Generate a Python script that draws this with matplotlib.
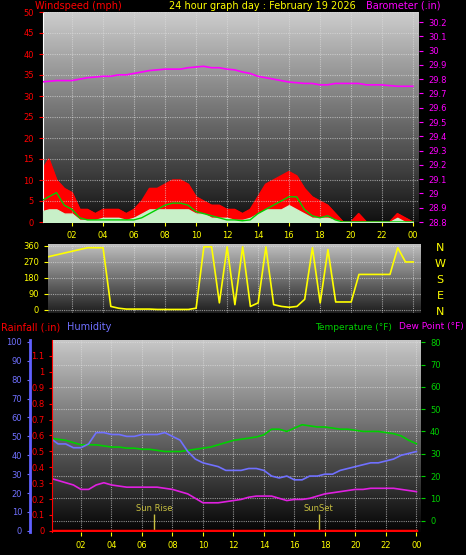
import numpy as np
import matplotlib
matplotlib.use("Agg")
import matplotlib.pyplot as plt

# ---- data ----
hrs = np.arange(0, 24.5, 0.5)
gust = [12, 15, 10, 8, 7, 3, 3, 2, 3, 3, 3, 2, 3, 5, 8, 8, 9, 10, 10, 9, 6, 5, 4, 4, 3,
        3, 2, 3, 6, 9, 10, 11, 12, 11, 8, 6, 5, 4, 2, 0, 0, 2, 0, 0, 0, 0, 2, 1, 0]
wspeed = [2.5, 3, 3, 2, 2, 0.5, 0.5, 0.5, 1, 1, 1, 0.5, 1, 2, 3, 3, 3, 3, 3, 3, 2, 2, 1, 1, 1,
          0.5, 0.5, 1, 2, 3, 3, 3, 4, 3, 2, 1, 1, 1, 0.5, 0, 0, 0, 0, 0, 0, 0, 1, 0, 0]
wavg = [5, 6, 7, 4, 3, 1, 0.5, 0.5, 0.5, 0.5, 0.5, 0.5, 0.5, 1, 2, 3, 4, 4.5, 4.5, 4, 2.5, 2, 1.5, 1, 0.5,
        0.5, 0.3, 0.5, 2, 3, 4, 5, 6, 6, 3, 1.5, 1, 1.5, 0.5, 0, 0, 0, 0, 0, 0, 0, 0, 0, 0]
baro = [29.78, 29.785, 29.79, 29.79, 29.79, 29.80, 29.81, 29.815, 29.82, 29.82, 29.83, 29.83, 29.84,
        29.85, 29.86, 29.865, 29.87, 29.87, 29.87, 29.88, 29.885, 29.89, 29.88, 29.88, 29.87,
        29.865, 29.85, 29.84, 29.82, 29.81, 29.80, 29.79, 29.78, 29.775, 29.77, 29.77, 29.76,
        29.76, 29.77, 29.77, 29.77, 29.77, 29.76, 29.76, 29.76, 29.755, 29.75, 29.75, 29.75]
wdir = [290, 300, 310, 320, 330, 340, 350, 350, 350, 20, 10, 5, 5, 5, 5, 3, 3, 3, 3, 3, 10, 355, 355, 40, 355,
        30, 355, 20, 40, 355, 30, 20, 15, 20, 60, 350, 40, 340, 45, 45, 45, 200, 200, 200, 200, 200, 350, 270, 270]
humid = [49, 46, 46, 44, 44, 46, 52, 52, 51, 51, 50, 50, 51, 51, 51, 52, 50, 48, 42, 38, 36, 35, 34, 32, 32,
         32, 33, 33, 32, 29, 28, 29, 27, 27, 29, 29, 30, 30, 32, 33, 34, 35, 36, 36, 37, 38, 40, 41, 42]
temp = [37, 36.5, 36, 35, 34, 34, 34, 33.5, 33, 33, 32.5, 32.5, 32, 32, 31.5, 31, 31, 31, 31.5, 32, 32.5, 33, 34, 35,
        36, 36.5, 37, 37.5, 38.5, 41, 41, 40, 41.5, 43, 42.5, 42, 42, 41.5, 41, 41, 40.5, 40, 40, 40, 39.5, 39, 38, 36, 34.5]
dew = [19, 18, 17, 16, 14, 14, 16, 17, 16, 15.5, 15, 15, 15, 15, 15, 14.5, 14, 13, 12, 10, 8, 8, 8, 8.5, 9,
       9.5, 10.5, 11, 11, 11, 10, 9, 9.5, 9.5, 10, 11, 12, 12.5, 13, 13.5, 14, 14, 14.5, 14.5, 14.5, 14.5, 14, 13.5, 13]
rain = [0] * len(hrs)
hour_ticks = list(range(2, 26, 2))
hour_labels = ["02", "04", "06", "08", "10", "12", "14", "16", "18", "20", "22", "00"]
sunrise, sunset = 6.8, 17.6

W, H = 466, 555
fig = plt.figure(figsize=(W / 100, H / 100), dpi=100, facecolor="black")
fs = 6


def box(x0, y0, x1, y1):
    return fig.add_axes([x0 / W, 1 - y1 / H, (x1 - x0) / W, (y1 - y0) / H])


def gradient(ax, top, bot):
    x0, x1 = ax.get_xlim()
    y0, y1 = ax.get_ylim()
    g = np.linspace(top, bot, 100)[:, None]
    ax.imshow(np.repeat(g, 2, 1), cmap="gray", vmin=0, vmax=1, aspect="auto",
              extent=[x0, x1, y0, y1], origin="upper", zorder=0)
    ax.set_xlim(x0, x1)
    ax.set_ylim(y0, y1)


def style(ax, col):
    ax.set_facecolor("black")
    for s in ax.spines.values():
        s.set_visible(False)
    ax.tick_params(colors=col, labelsize=fs, length=3)
    ax.grid(color="#e0e0e0", linestyle=(0, (1, 1)), linewidth=0.8, alpha=0.6)
    ax.set_axisbelow(False)


# ---- top: wind + barometer ----
ax1 = box(43, 12, 419, 222)
ax1.set_xlim(0.13, 24.4)
ax1.set_ylim(0, 50)
gradient(ax1, 0.8, 0.07)
style(ax1, "red")
ax1.fill_between(hrs, gust, color="red", zorder=2)
ax1.plot(hrs, gust, color="red", lw=1, zorder=2)
ax1.fill_between(hrs, wspeed, color="#c8f0c8", zorder=3)
ax1.plot(hrs, wavg, color="#00d000", lw=1, zorder=4)
ax1.set_yticks(range(0, 51, 5))
ax1.set_xticks(hour_ticks)
ax1.set_xticklabels(hour_labels)
ax1.tick_params(axis="x", colors="yellow")
ax1.spines["left"].set_visible(True)
ax1.spines["left"].set_color("white")
ax1b = ax1.twinx()
ax1b.set_ylim(28.8, 30.27)
ax1b.plot(hrs, baro, color="#ff00ff", lw=1.2)
bt = np.round(np.arange(28.8, 30.25, 0.1), 1)
ax1b.set_yticks(bt)
ax1b.set_yticklabels([f"{v:g}" for v in bt])
for s in ax1b.spines.values():
    s.set_visible(False)
ax1b.tick_params(colors="#ff00ff", labelsize=fs, length=3)
ax1.yaxis.tick_left()

# ---- middle: wind direction ----
ax2 = box(48, 244, 421, 313)
ax2.set_xlim(0.45, 24.5)
ax2.set_ylim(-17, 371)
gradient(ax2, 0.75, 0.12)
style(ax2, "yellow")
ax2.plot(hrs, wdir, color="yellow", lw=1.2, zorder=3)
ax2.set_yticks([0, 90, 180, 270, 360])
ax2.set_xticks(hour_ticks)
ax2.set_xticklabels([])
ax2.tick_params(axis="x", length=0)
for i, c in enumerate("NWSEN"):
    fig.text(440 / W, 1 - (248 + i * 16) / H, c, color="yellow", fontsize=8,
             ha="center", va="center")

# ---- bottom: temperature, humidity, rain ----
ax3 = box(52, 340, 421, 532)
ax3.set_xlim(0.1, 24.3)
ax3.set_ylim(-5.1, 81)
gradient(ax3, 0.78, 0.02)
style(ax3, "#00d000")
ax3.set_xticks(hour_ticks)
ax3.set_xticklabels(hour_labels)
ax3.tick_params(axis="x", colors="yellow")
ax3.plot(hrs, temp, color="#00d000", lw=1.2, zorder=4)
ax3.plot(hrs, dew, color="#e020e0", lw=1.2, zorder=4)
ax3.vlines([sunrise, sunset], -5.1, 3, color="#c8c040", lw=1, zorder=5)
ax3.text(sunrise, 3.5, "Sun Rise", color="#c8c040", fontsize=fs, ha="center", va="bottom")
ax3.text(sunset, 3.5, "SunSet", color="#c8c040", fontsize=fs, ha="center", va="bottom")

axh = ax3.twinx()
axh.set_ylim(-0.6, 101)
axh.plot(hrs, humid, color="#7070ff", lw=1.2)
for s in axh.spines.values():
    s.set_visible(False)
axh.spines["left"].set_visible(True)
axh.spines["left"].set_position(("outward", 16))
axh.spines["left"].set_color("#6060ff")
axh.spines["left"].set_linewidth(2)
axh.set_yticks(range(0, 101, 10))
axh.tick_params(colors="#7070ff", labelsize=fs, length=2)

axr = ax3.twinx()
axr.set_ylim(-0.007, 1.2)
axr.plot(hrs, rain, color="red", lw=2.5, zorder=6)
for s in axr.spines.values():
    s.set_visible(False)
axr.spines["left"].set_visible(True)
axr.spines["left"].set_color("red")
axr.spines["left"].set_linestyle((0, (2, 1)))
rt = np.round(np.arange(0, 1.15, 0.1), 1)
axr.set_yticks(rt)
axr.set_yticklabels([f"{v:g}" for v in rt])
axr.tick_params(colors="red", labelsize=fs, length=2)

# twinx flips tick sides, so set them last
axh.yaxis.tick_left()
axr.yaxis.tick_left()
ax3.yaxis.tick_right()
ax3.yaxis.set_tick_params(labelleft=False, left=False)

# ---- headers ----
fig.text(35 / W, 1 - 6 / H, "Windspeed (mph)", color="red", fontsize=7, va="center")
fig.text(262 / W, 1 - 6 / H, "24 hour graph day : February 19 2026", color="yellow",
         fontsize=7, va="center", ha="center")
fig.text(440 / W, 1 - 6 / H, "Barometer (.in)", color="#ff00ff", fontsize=7, va="center", ha="right")
fig.text(1 / W, 1 - 327 / H, "Rainfall (.in)", color="red", fontsize=7, va="center")
fig.text(67 / W, 1 - 327 / H, "Humidity", color="#7070ff", fontsize=7, va="center")
fig.text(392 / W, 1 - 327 / H, "Temperature (°F)", color="#00d000", fontsize=6.5, va="center", ha="right")
fig.text(464 / W, 1 - 327 / H, "Dew Point (°F)", color="#ff00ff", fontsize=6.5, va="center", ha="right")

fig.savefig("out.png", dpi=100, facecolor="black")
